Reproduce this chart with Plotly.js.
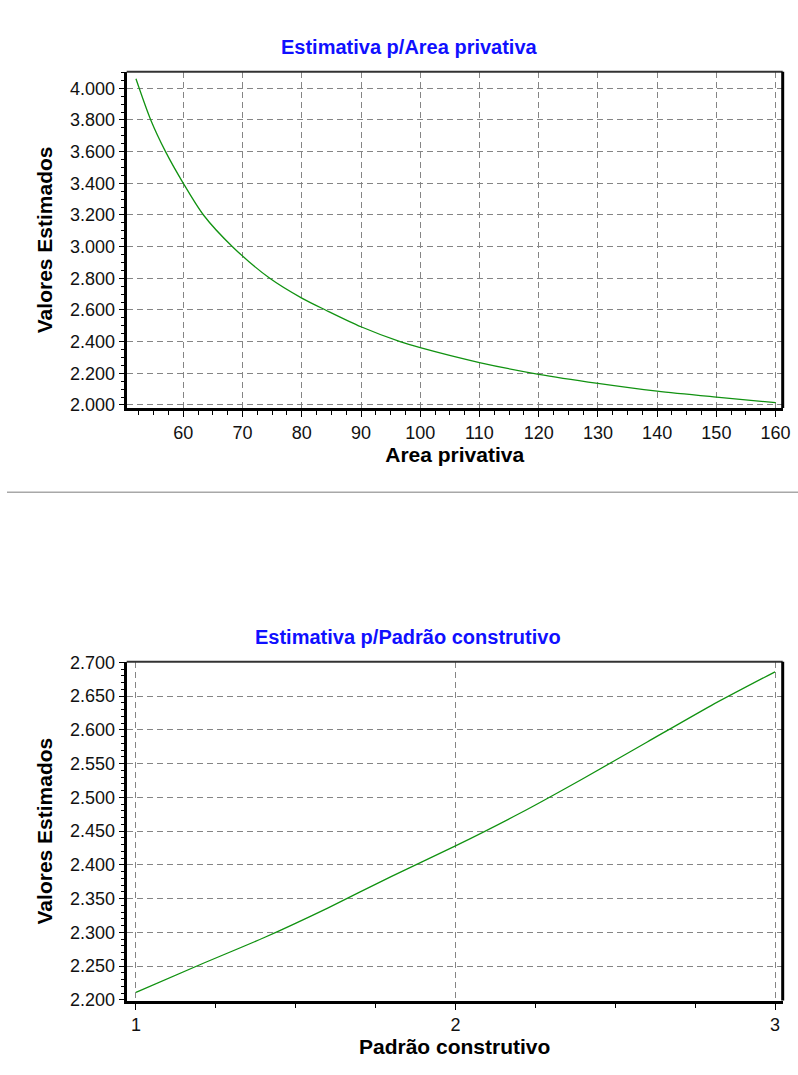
<!DOCTYPE html>
<html>
<head>
<meta charset="utf-8">
<script src="https://cdn.plot.ly/plotly-3.0.1.min.js"></script>
<style>
html,body{margin:0;padding:0;background:#fff;}
#chart{width:798px;height:1075px;}
</style>
</head>
<body>
<div id="chart"></div>
<script>
// Chart 1: Estimativa p/Area privativa
const areaX = [52, 54.5, 57, 60, 63.4, 68.3, 74.6, 80, 84, 90, 96.6, 100, 110, 120, 130, 140, 150, 160];
const areaY = [4060, 3800, 3600, 3400, 3200, 3000, 2800, 2675, 2600, 2494, 2400, 2362, 2268, 2194, 2137, 2088, 2050, 2015];
const areaTicks = [60, 70, 80, 90, 100, 110, 120, 130, 140, 150, 160];
const areaYTicks = [2000, 2200, 2400, 2600, 2800, 3000, 3200, 3400, 3600, 3800, 4000];

// Chart 2: Estimativa p/Padrão construtivo
const padraoX = [1.0, 1.2, 1.4, 1.6, 1.8, 2.0, 2.2, 2.4, 2.6, 2.8, 3.0];
const padraoY = [2211, 2252, 2292, 2336, 2383, 2428, 2476, 2528, 2582, 2636, 2686];
const padraoTicks = [1, 2, 3];
const padraoYTicks = [2200, 2250, 2300, 2350, 2400, 2450, 2500, 2550, 2600, 2650, 2700];

const title1 = 'Estimativa p/Area privativa';
const title2 = 'Estimativa p/Padrão construtivo';
const xTitle1 = 'Area privativa';
const xTitle2 = 'Padrão construtivo';
const yTitle = 'Valores Estimados';

const FONT = 'Arial, "Liberation Sans", sans-serif';
const lineColor = '#119211';

const traces = [
  {x: areaX, y: areaY, type: 'scatter', mode: 'lines', xaxis: 'x', yaxis: 'y',
   line: {color: lineColor, width: 1.3, shape: 'spline', smoothing: 0.8}, hoverinfo: 'skip'},
  {x: padraoX, y: padraoY, type: 'scatter', mode: 'lines', xaxis: 'x2', yaxis: 'y2',
   line: {color: lineColor, width: 1.3, shape: 'spline', smoothing: 0.6}, hoverinfo: 'skip'}
];

const dom1 = [126.7 / 798, 782.7 / 798];
const yDom1 = [1 - 408 / 1075, 1 - 71.7 / 1075];
const yDom2 = [1 - 1000.5 / 1075, 1 - 661.7 / 1075];

function xAxis(extra) {
  return Object.assign({
    showline: true, linecolor: '#000', linewidth: 3,
    ticks: 'outside', ticklen: 6, tickwidth: 1, tickcolor: '#000',
    showgrid: true, gridcolor: '#858585', gridwidth: 1, griddash: '6px,4px',
    zeroline: false, fixedrange: true,
    tickfont: {family: FONT, size: 18, color: '#111'},
  }, extra);
}
function yAxis(extra) {
  return Object.assign({
    showline: true, linecolor: '#000', linewidth: 3,
    ticks: 'outside', ticklen: 5, tickwidth: 1, tickcolor: '#000',
    showgrid: true, gridcolor: '#858585', gridwidth: 1, griddash: '6px,4px',
    zeroline: false, fixedrange: true,
    tickformat: ',d',
    tickfont: {family: FONT, size: 18, color: '#111'},
  }, extra);
}

const layout = {
  width: 798, height: 1075,
  margin: {l: 0, r: 0, t: 0, b: 0},
  paper_bgcolor: '#fff', plot_bgcolor: '#fff',
  separators: ',.',
  showlegend: false,
  xaxis: xAxis({
    domain: dom1, range: [50.44, 161.2], anchor: 'y',
    tickmode: 'array', tickvals: areaTicks,
    minor: {dtick: 2.5, tick0: 50, ticks: 'outside', ticklen: 4, tickcolor: '#000', showgrid: false},
    title: {text: xTitle1, font: {family: FONT, size: 21, color: '#000', weight: 'bold'}, standoff: 6}
  }),
  yaxis: yAxis({
    domain: yDom1, range: [1981, 4105], anchor: 'x',
    tickmode: 'array', tickvals: areaYTicks,
    minor: {dtick: 50, ticks: 'outside', ticklen: 3, tickcolor: '#000', showgrid: false},
    title: {text: yTitle, font: {family: FONT, size: 21, color: '#000', weight: 'bold'}, standoff: 12}
  }),
  xaxis2: xAxis({
    domain: dom1, range: [0.971, 3.024], anchor: 'y2',
    tickmode: 'array', tickvals: padraoTicks,
    minor: {dtick: 0.25, tick0: 1, ticks: 'outside', ticklen: 4, tickcolor: '#000', showgrid: false},
    title: {text: xTitle2, font: {family: FONT, size: 21, color: '#000', weight: 'bold'}, standoff: 6}
  }),
  yaxis2: yAxis({
    domain: yDom2, range: [2199, 2701], anchor: 'x2',
    tickmode: 'array', tickvals: padraoYTicks,
    minor: {dtick: 10, ticks: 'outside', ticklen: 3, tickcolor: '#000', showgrid: false},
    title: {text: yTitle, font: {family: FONT, size: 21, color: '#000', weight: 'bold'}, standoff: 12}
  }),
  annotations: [
    {text: title1, xref: 'paper', yref: 'paper', x: 409 / 798, y: 1 - 47 / 1075,
     xanchor: 'center', yanchor: 'middle', showarrow: false,
     font: {family: FONT, size: 20, color: '#1010ff', weight: 'bold'}},
    {text: title2, xref: 'paper', yref: 'paper', x: 408 / 798, y: 1 - 637 / 1075,
     xanchor: 'center', yanchor: 'middle', showarrow: false,
     font: {family: FONT, size: 20, color: '#1010ff', weight: 'bold'}}
  ],
  shapes: [
    {type: 'line', xref: 'x domain', yref: 'y domain', x0: 0, x1: 1, y0: 1, y1: 1, line: {color: '#333', width: 2}},
    {type: 'line', xref: 'x domain', yref: 'y domain', x0: 1, x1: 1, y0: 0, y1: 1, line: {color: '#000', width: 3}},
    {type: 'line', xref: 'x2 domain', yref: 'y2 domain', x0: 0, x1: 1, y0: 1, y1: 1, line: {color: '#333', width: 2}},
    {type: 'line', xref: 'x2 domain', yref: 'y2 domain', x0: 1, x1: 1, y0: 0, y1: 1, line: {color: '#000', width: 3}},
    {type: 'line', xref: 'paper', yref: 'paper', x0: 7 / 798, x1: 1, y0: 1 - 492.3 / 1075, y1: 1 - 492.3 / 1075,
     line: {color: '#a8a8a8', width: 1.5}}
  ]
};

Plotly.newPlot('chart', traces, layout, {staticPlot: true, displayModeBar: false});
</script>
</body>
</html>
